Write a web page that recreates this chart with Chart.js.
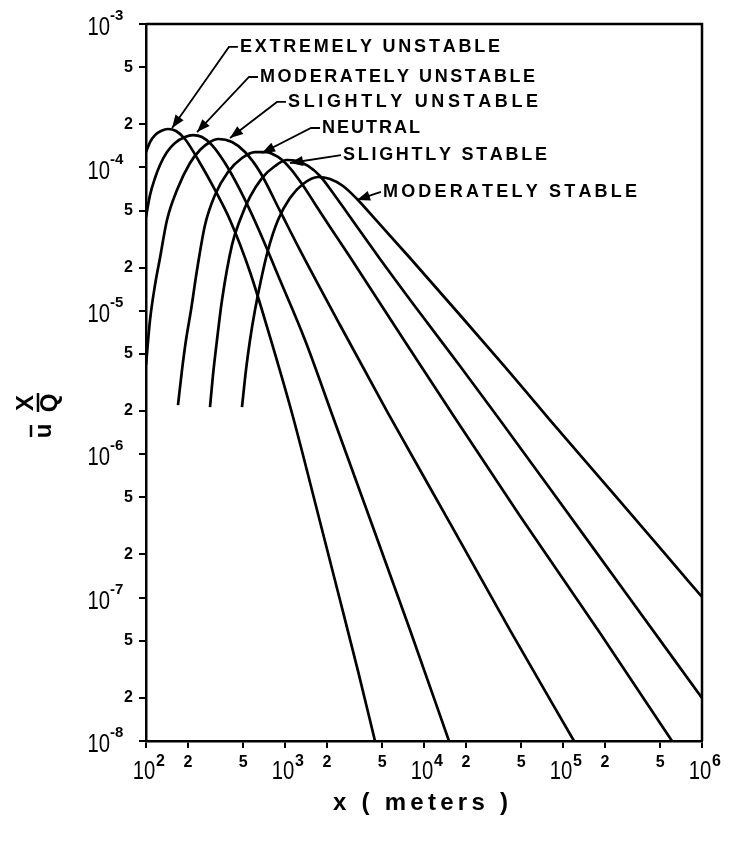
<!DOCTYPE html>
<html>
<head>
<meta charset="utf-8">
<script src="https://cdn.jsdelivr.net/npm/chart.js@4/dist/chart.umd.min.js"></script>
<style>
  html, body { margin: 0; padding: 0; background: #fff; }
  canvas { display: block; }
</style>
</head>
<body>
<canvas id="chart" width="734" height="849"></canvas>
<script>
// Ground-level u*chi/Q against downwind distance, one curve per stability class
// x in meters, y in m^-2

const euX = [100, 106.9, 116.1, 128.2, 144, 164.4, 190.8, 244.6, 313.6, 402.1, 560.1, 780, 1142, 1728, 2487, 3350, 4441];
const euY = [1.28e-4, 1.503e-4, 1.68e-4, 1.794e-4, 1.853e-4, 1.794e-4, 1.578e-4, 1.073e-4, 6.96e-5, 4.30e-5, 1.865e-5, 6.57e-6, 1.817e-6, 3.83e-7, 9.62e-8, 3.08e-8, 1e-8];

const muX = [100, 106.9, 116.1, 126.1, 141.6, 161.7, 190.8, 217.8, 252.8, 298.5, 370, 474.6, 639.4, 920.5, 1393, 2215, 4088, 7932, 15130];
const muY = [4.51e-5, 6.42e-5, 8.43e-5, 1.039e-4, 1.28e-4, 1.479e-4, 1.629e-4, 1.68e-4, 1.629e-4, 1.432e-4, 1.073e-4, 6.96e-5, 3.78e-5, 1.64e-5, 6.26e-6, 1.817e-6, 3.53e-7, 5.94e-8, 1e-8];

const suX = [100, 106.9, 116.1, 126.1, 141.6, 167.1, 207.3, 244.6, 288.7, 329.6, 415.7, 515.5, 660.9, 920.5, 1282, 2487, 5508, 15380, 41560, 120000];
const suY = [4.19e-6, 8.63e-6, 1.513e-5, 2.335e-5, 4.30e-5, 6.96e-5, 1.073e-4, 1.322e-4, 1.503e-4, 1.578e-4, 1.503e-4, 1.28e-4, 9.29e-5, 4.97e-5, 2.65e-5, 7.96e-6, 1.937e-6, 3.31e-7, 5.94e-8, 1e-8];

const nX = [169.9, 181.6, 194, 210.8, 232.8, 265.8, 313.6, 389, 490.4, 608.4, 730, 890.6, 1086, 1326, 1644, 2108, 2935, 6720, 16170, 49060, 184600, 608400];
const nY = [2.2e-6, 3.87e-6, 6.26e-6, 1.013e-5, 1.925e-5, 3.97e-5, 6.42e-5, 9.29e-5, 1.163e-4, 1.28e-4, 1.28e-4, 1.182e-4, 9.9e-5, 7.66e-5, 5.56e-5, 3.84e-5, 2.37e-5, 6.89e-6, 1.876e-6, 3.71e-7, 5.66e-8, 1e-8];

const ssX = [288.7, 303.4, 324.2, 352.3, 415.7, 474.6, 560.1, 683.2, 847.5, 1034, 1220, 1464, 1786, 2215, 2839, 4826, 9359, 18150, 33510, 81990, 257100, 1000000];
const ssY = [2.13e-6, 3.57e-6, 6.26e-6, 1.19e-5, 2.88e-5, 4.30e-5, 6.22e-5, 8.43e-5, 1.023e-4, 1.126e-4, 1.108e-4, 1.023e-4, 8.71e-5, 6.63e-5, 4.73e-5, 2.30e-5, 9.65e-6, 4.12e-6, 1.846e-6, 5.63e-7, 1.224e-7, 1.995e-8];

const msX = [490.4, 524.1, 560.1, 608.4, 671.9, 754.6, 890.6, 1086, 1348, 1728, 2108, 2614, 3296, 4441, 7932, 18150, 38240, 80640, 228900, 498800, 1000000];
const msY = [2.13e-6, 3.87e-6, 6.26e-6, 1.013e-5, 1.64e-5, 2.65e-5, 4.30e-5, 6.12e-5, 7.66e-5, 8.57e-5, 8.3e-5, 7.42e-5, 6.02e-5, 4.37e-5, 2.335e-5, 9.35e-6, 4.06e-6, 1.73e-6, 5.36e-7, 2.22e-7, 1.01e-7];

const seriesNames = ['EXTREMELY UNSTABLE', 'MODERATELY UNSTABLE', 'SLIGHTLY UNSTABLE', 'NEUTRAL', 'SLIGHTLY STABLE', 'MODERATELY STABLE'];

// tick values: decades plus 2 and 5 in between
const xTicks = [1e2, 2e2, 5e2, 1e3, 2e3, 5e3, 1e4, 2e4, 5e4, 1e5, 2e5, 5e5, 1e6];
const yTicks = [1e-8, 2e-8, 5e-8, 1e-7, 2e-7, 5e-7, 1e-6, 2e-6, 5e-6, 1e-5, 2e-5, 5e-5, 1e-4, 2e-4, 5e-4, 1e-3];

// callouts: arrow tip on the curve, text anchor (left, middle), target width of text
const callouts = [
  { text: seriesNames[0], tip: [154, 1.88e-4], at: [474, 6.92e-4], w: 260, elbow: true },
  { text: seriesNames[1], tip: [233, 1.765e-4], at: [661, 4.27e-4], w: 275, elbow: true },
  { text: seriesNames[2], tip: [402, 1.603e-4], at: [1051, 2.86e-4], w: 250, elbow: true },
  { text: seriesNames[3], tip: [683, 1.26e-4], at: [1846, 1.883e-4], w: 98, elbow: true },
  { text: seriesNames[4], tip: [1086, 1.073e-4], at: [2614, 1.22e-4], w: 204, elbow: false },
  { text: seriesNames[5], tip: [3296, 5.93e-5], at: [5070, 6.74e-5], w: 254, elbow: false }
];

const allX = [euX, muX, suX, nX, ssX, msX];
const allY = [euY, muY, suY, nY, ssY, msY];

function makeDatasets() {
  return seriesNames.map((name, i) => ({
    label: name,
    data: allX[i].map((x, j) => ({ x: x, y: allY[i][j] })),
    borderColor: '#000',
    borderWidth: 2.7,
    pointRadius: 0,
    fill: false,
    cubicInterpolationMode: 'monotone'
  }));
}

// draw a string with spacing stretched so it spans width w
function spacedText(ctx, str, x, y, w) {
  const chars = str.split('');
  const raw = chars.reduce((s, c) => s + ctx.measureText(c).width, 0);
  const gap = chars.length > 1 ? (w - raw) / (chars.length - 1) : 0;
  let cx = x;
  chars.forEach(c => {
    ctx.fillText(c, cx, y);
    cx += ctx.measureText(c).width + gap;
  });
}

function narrowText(ctx, str, x, y, sx) {
  ctx.save();
  ctx.translate(x, y);
  ctx.scale(sx, 1);
  ctx.fillText(str, 0, 0);
  ctx.restore();
}

function arrowHead(ctx, fx, fy, tx, ty) {
  const ang = Math.atan2(ty - fy, tx - fx);
  const len = 13, half = 5;
  ctx.beginPath();
  ctx.moveTo(tx, ty);
  ctx.lineTo(tx - len * Math.cos(ang) + half * Math.sin(ang), ty - len * Math.sin(ang) - half * Math.cos(ang));
  ctx.lineTo(tx - len * Math.cos(ang) - half * Math.sin(ang), ty - len * Math.sin(ang) + half * Math.cos(ang));
  ctx.closePath();
  ctx.fill();
}

const paperLook = {
  id: 'paperLook',
  afterDraw(chart) {
    const ctx = chart.ctx;
    const sx = chart.scales.x, sy = chart.scales.y;
    const a = chart.chartArea;
    ctx.save();
    ctx.fillStyle = '#000';
    ctx.strokeStyle = '#000';

    // top and right edges of the frame
    ctx.lineWidth = 2.5;
    ctx.beginPath();
    ctx.moveTo(a.left, a.top);
    ctx.lineTo(a.right, a.top);
    ctx.lineTo(a.right, a.bottom);
    ctx.stroke();

    // y tick labels
    yTicks.forEach(v => {
      const py = sy.getPixelForValue(v);
      const e = Math.floor(Math.log10(v) + 1e-9);
      const m = Math.round(v / Math.pow(10, e));
      if (m === 1) {
        ctx.font = '26px "Liberation Sans"';
        ctx.textAlign = 'right';
        ctx.textBaseline = 'middle';
        narrowText(ctx, '10', a.left - 36, py + 4, 0.78);
        ctx.font = 'bold 15px "Liberation Sans"';
        ctx.textAlign = 'left';
        ctx.fillText('-' + (-e), a.left - 36, py - 8);
      } else {
        ctx.font = 'bold 16px "Liberation Sans"';
        ctx.textAlign = 'right';
        ctx.textBaseline = 'middle';
        ctx.fillText(String(m), a.left - 13, py);
      }
    });

    // x tick labels
    xTicks.forEach(v => {
      const px = sx.getPixelForValue(v);
      const e = Math.floor(Math.log10(v) + 1e-9);
      const m = Math.round(v / Math.pow(10, e));
      ctx.textBaseline = 'middle';
      if (m === 1) {
        ctx.font = '26px "Liberation Sans"';
        ctx.textAlign = 'center';
        narrowText(ctx, '10', px - 2, a.bottom + 31, 0.78);
        ctx.font = 'bold 16px "Liberation Sans"';
        ctx.textAlign = 'left';
        ctx.fillText(String(e), px + 10, a.bottom + 21);
      } else {
        ctx.font = 'bold 16px "Liberation Sans"';
        ctx.textAlign = 'center';
        ctx.fillText(String(m), px, a.bottom + 22);
      }
    });

    // x axis title
    ctx.font = 'bold 24px "Liberation Sans"';
    ctx.textAlign = 'left';
    ctx.textBaseline = 'middle';
    spacedText(ctx, 'x ( meters )', 333, 803, 175);

    // y axis title: u-bar chi/Q, rotated
    ctx.save();
    ctx.translate(38, 413);
    ctx.rotate(-Math.PI / 2);
    ctx.font = 'bold 24px "Liberation Sans"';
    ctx.textAlign = 'center';
    ctx.textBaseline = 'middle';
    ctx.fillText('u', -18, 6);
    ctx.lineWidth = 2.5;
    ctx.beginPath();
    ctx.moveTo(-24, -7); ctx.lineTo(-12, -7);
    ctx.stroke();
    ctx.fillText('X', 10, -12);
    ctx.fillText('Q', 10, 12);
    ctx.beginPath();
    ctx.moveTo(1, 0); ctx.lineTo(20, 0);
    ctx.stroke();
    ctx.restore();

    // curve labels with arrows
    ctx.font = 'bold 18px "Liberation Sans"';
    ctx.textAlign = 'left';
    ctx.textBaseline = 'middle';
    ctx.lineWidth = 1.8;
    callouts.forEach(c => {
      const tx = sx.getPixelForValue(c.tip[0]), ty = sy.getPixelForValue(c.tip[1]);
      const lx = sx.getPixelForValue(c.at[0]), ly = sy.getPixelForValue(c.at[1]);
      spacedText(ctx, c.text, lx, ly, c.w);
      ctx.beginPath();
      let fx = lx - 2, fy = ly;
      ctx.moveTo(fx, fy);
      if (c.elbow) {
        fx = lx - 11;
        ctx.lineTo(fx, fy);
      }
      ctx.lineTo(tx, ty);
      ctx.stroke();
      arrowHead(ctx, fx, fy, tx, ty);
    });

    ctx.restore();
  }
};

const ctx = document.getElementById('chart').getContext('2d');
new Chart(ctx, {
  type: 'line',
  data: { datasets: makeDatasets() },
  options: {
    responsive: false,
    animation: false,
    layout: { padding: { left: 0, top: 24, right: 32, bottom: 0 } },
    plugins: { legend: { display: false }, tooltip: { enabled: false } },
    scales: {
      x: {
        type: 'logarithmic',
        min: 100,
        max: 1e6,
        afterBuildTicks: s => { s.ticks = xTicks.map(v => ({ value: v })); },
        afterFit: s => { s.height = 108; },
        ticks: { display: false, autoSkip: false },
        grid: { drawOnChartArea: false, drawTicks: true, tickLength: 7, color: '#000', lineWidth: 2 },
        border: { display: true, color: '#000', width: 2.5 }
      },
      y: {
        type: 'logarithmic',
        min: 1e-8,
        max: 1e-3,
        afterBuildTicks: s => { s.ticks = yTicks.map(v => ({ value: v })); },
        afterFit: s => { s.width = 146; },
        ticks: { display: false, autoSkip: false },
        grid: { drawOnChartArea: false, drawTicks: true, tickLength: 7, color: '#000', lineWidth: 2 },
        border: { display: true, color: '#000', width: 2.5 }
      }
    }
  },
  plugins: [paperLook]
});
</script>
</body>
</html>
